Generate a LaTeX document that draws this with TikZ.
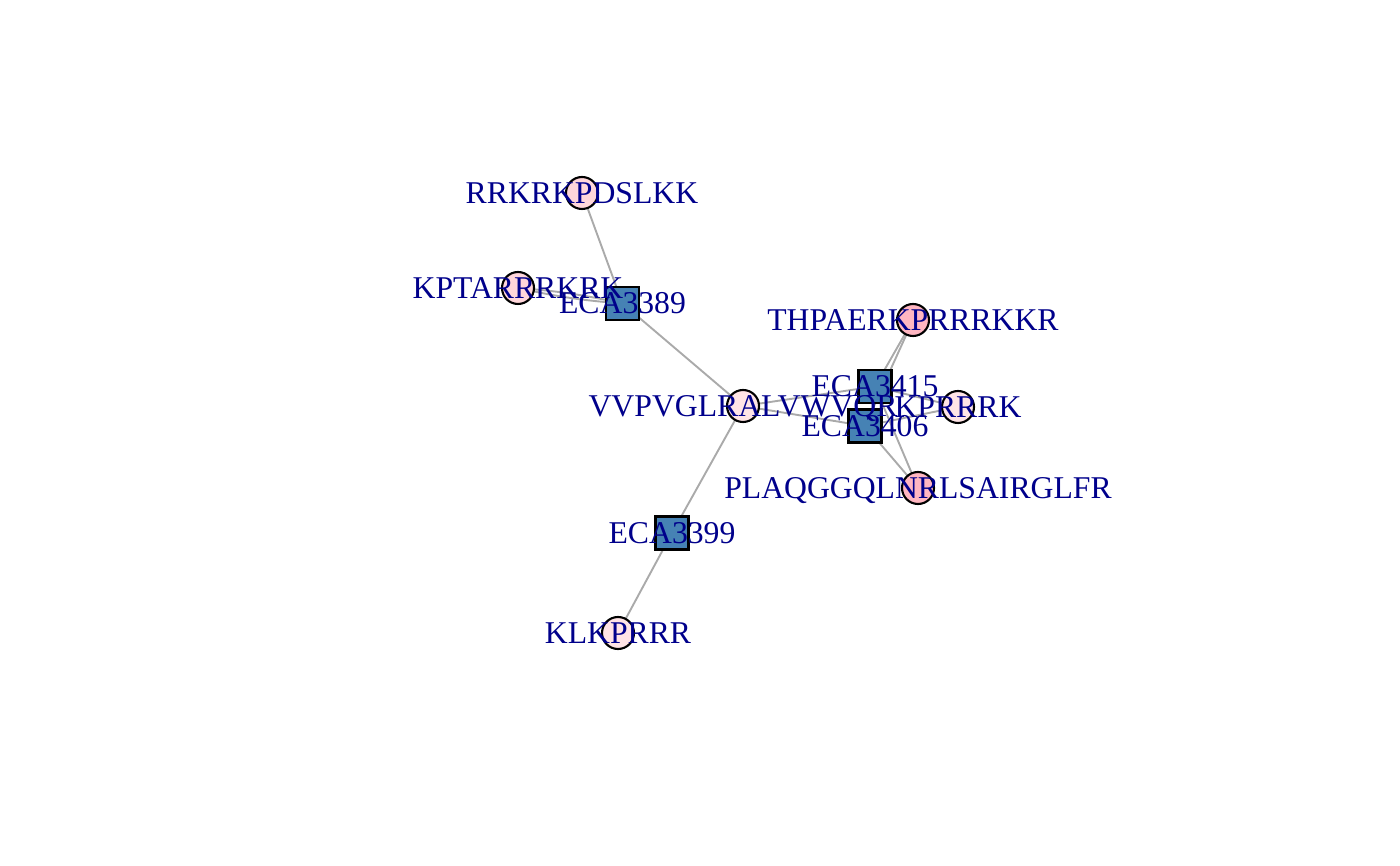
\documentclass[tikz,border=0pt]{standalone}
\usepackage{fontspec}
\setmainfont{Liberation Serif}
\definecolor{edgegray}{RGB}{170,170,170}
\definecolor{sqfill}{RGB}{70,130,180}
\definecolor{lblcol}{RGB}{0,0,139}
\definecolor{pinkA}{RGB}{255,228,230}
\definecolor{pinkB}{RGB}{255,214,218}
\definecolor{pinkC}{RGB}{255,182,193}
\tikzset{
  pep/.style={circle, draw=black, line width=2.1pt, minimum size=32pt, inner sep=0pt},
  prot/.style={rectangle, draw=black, line width=2.1pt, fill=sqfill, minimum size=33pt, inner sep=0pt},
  edge/.style={draw=edgegray, line width=1.9pt},
  lab/.style={anchor=base, yshift=-10.3pt, text=lblcol, inner sep=0pt, font=\fontsize{31.7}{36}\selectfont}
}
\begin{document}
\begin{tikzpicture}[x=1pt,y=1pt]
\useasboundingbox (0,0) rectangle (1400,865);
% node coordinates
\coordinate (crrk) at (582,672);
\coordinate (ckpt) at (518,577);
\coordinate (c3389) at (622.5,561.5);
\coordinate (cvvp) at (743,459);
\coordinate (cthp) at (913,545);
\coordinate (c3415) at (875,478.5);
\coordinate (ckpr) at (958,458);
\coordinate (c3406) at (865,439);
\coordinate (cpla) at (918,377);
\coordinate (c3399) at (672,332);
\coordinate (cklk) at (618,232);
% edges
\draw[edge] (crrk) -- (c3389);
\draw[edge] (ckpt) to[bend left=4] (c3389);
\draw[edge] (ckpt) to[bend right=4] (c3389);
\draw[edge] (c3389) -- (cvvp);
\draw[edge] (cvvp) -- (c3399);
\draw[edge] (c3399) -- (cklk);
\draw[edge] (cvvp) -- (c3415);
\draw[edge] (cvvp) -- (c3406);
\draw[edge] (cthp) -- (c3415);
\draw[edge] (cthp) -- (c3406);
\draw[edge] (ckpr) -- (c3415);
\draw[edge] (ckpr) -- (c3406);
\draw[edge] (cpla) -- (c3406);
\draw[edge] (cpla) -- (c3415);
% vertices
\node[pep, fill=pinkB] (rrk) at (crrk) {};
\node[pep, fill=pinkB] (kpt) at (ckpt) {};
\node[prot] (e3389) at (c3389) {};
\node[pep, fill=pinkA] (vvp) at (cvvp) {};
\node[pep, fill=pinkC] (thp) at (cthp) {};
\node[prot] (e3415) at (c3415) {};
\node[pep, fill=pinkA] (kpr) at (ckpr) {};
\node[prot] (e3406) at (c3406) {};
\node[pep, fill=pinkC] (pla) at (cpla) {};
\node[prot] (e3399) at (c3399) {};
\node[pep, fill=pinkA] (klk) at (cklk) {};
% labels
\node[lab] (lrrk) at (crrk) {RRKRKPDSLKK};
\node[lab] (lkpt) at (ckpt) {KPTARRRKRK};
\node[lab] (l3389) at (c3389) {ECA3389};
\node[lab] (lvvp) at (cvvp) {VVPVGLRALVWVQR};
\node[lab] (lthp) at (cthp) {THPAERKPRRRKKR};
\node[lab] (l3415) at (c3415) {ECA3415};
\node[lab] (lkpr) at (ckpr) {KPRRRK};
\node[lab] (l3406) at (c3406) {ECA3406};
\node[lab] (lpla) at (cpla) {PLAQGGQLNRLSAIRGLFR};
\node[lab] (l3399) at (c3399) {ECA3399};
\node[lab] (lklk) at (cklk) {KLKPRRR};
\end{tikzpicture}
\end{document}
